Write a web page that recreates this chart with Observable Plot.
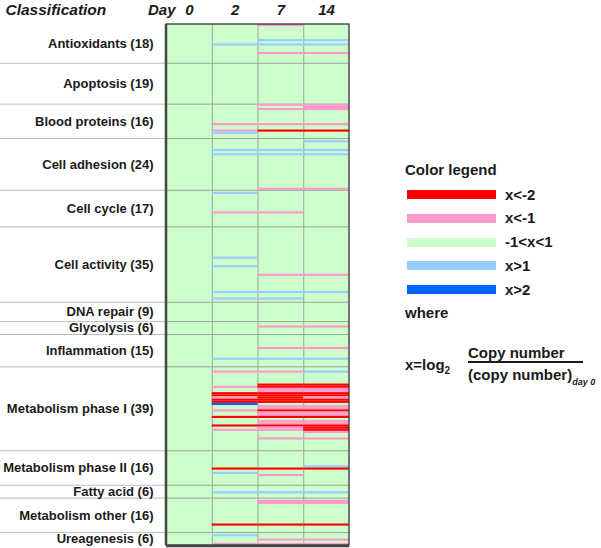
<!DOCTYPE html>
<html>
<head>
<meta charset="utf-8">
<script src="https://cdn.jsdelivr.net/npm/d3@7"></script>
<script src="https://cdn.jsdelivr.net/npm/@observablehq/plot@0.6"></script>
<style>
  body { margin: 0; background: #fff; }
  #wrap { position: relative; width: 601px; height: 548px; font-family: Arial, "Liberation Sans", sans-serif; color: #1a1a1a; overflow: hidden; }
  #chart { position: absolute; left: 0; top: 0; }
  #legend { position: absolute; left: 405px; top: 0; width: 196px; height: 548px; font-weight: bold; font-size: 15px; }
  #legend div { position: absolute; white-space: nowrap; line-height: 18px; }
  .sw { height: 9px; width: 89px; left: 2px; }
  sub { font-size: 10px; line-height: 0; }
  .den sub { font-size: 9px; font-style: italic; vertical-align: -5px; }
</style>
</head>
<body>
<div id="wrap"><div id="chart"></div><div id="legend"></div></div>
<script>
// ---- data ----
const categories = ["Antioxidants", "Apoptosis", "Blood proteins", "Cell adhesion", "Cell cycle",
  "Cell activity", "DNA repair", "Glycolysis", "Inflammation", "Metabolism phase I",
  "Metabolism phase II", "Fatty acid", "Metabolism other", "Ureagenesis"];
const geneCounts = [18, 19, 16, 24, 17, 35, 9, 6, 15, 39, 16, 6, 16, 6];
const days = ["0", "2", "7", "14"];

// [gene row (0 = top), level]  level: -2 x<-2, -1 x<-1, 1 x>1, 2 x>2 ; unlisted rows are -1<x<1
const day0Changes = [];
const day2Changes = [[9,1],[46,-1],[49,-1],[50,1],[58,1],[60,1],[78,1],[87,-1],[108,1],[112,1],
  [124,1],[127,1],[155,1],[161,-1],[168,-1],[171,-2],[172,-2],[173,-1],[174,-2],[175,-2],[176,2],
  [179,-1],[182,-2],[186,-2],[188,-1],[206,-2],[208,1],[217,1],[232,-2],[237,1],[241,-1]];
const day7Changes = [[0,-1],[7,1],[9,1],[13,-1],[37,-1],[39,-1],[46,-1],[49,-2],[58,1],[60,1],
  [76,-1],[87,-1],[116,-1],[124,1],[127,1],[140,-1],[150,-1],[155,1],[161,-1],[167,-2],[168,-2],
  [169,-1],[170,-1],[171,-2],[172,-2],[173,-2],[174,-2],[175,-2],[177,-1],[178,-1],[179,-2],[180,-1],
  [181,-1],[182,-2],[184,-1],[185,-1],[186,-2],[187,-1],[188,-1],[192,-1],[206,-2],[209,-1],[217,1],
  [221,-1],[222,-1],[232,-2],[239,-1],[241,-1]];
const day14Changes = [[7,1],[9,1],[13,-1],[37,-1],[38,-1],[39,-1],[46,-1],[49,-2],[54,1],[58,1],
  [60,1],[76,-1],[116,-1],[124,1],[140,-1],[150,-1],[155,1],[161,1],[167,-2],[168,-2],[169,-1],
  [170,-1],[171,-2],[172,-2],[173,-1],[174,-2],[175,-2],[177,-1],[178,-1],[179,-2],[180,-1],[181,-1],
  [182,-2],[184,-1],[185,-1],[186,-2],[187,-2],[188,-2],[189,-1],[192,-1],[205,1],[206,-2],[217,1],
  [221,-1],[222,-1],[232,-2],[239,-1],[241,-1]];

const levels = [-2, -1, 0, 1, 2];
const legendLabels = ["x<-2", "x<-1", "-1<x<1", "x>1", "x>2"];
const palette = ["#ff0000", "#ff99cc", "#ccffcc", "#99ccff", "#0066ff"];

// ---- derived tables ----
let start = 0;
const groups = categories.map((c, i) => {
  const g = {label: `${c} (${geneCounts[i]})`, start, end: start + geneCounts[i]};
  start += geneCounts[i];
  return g;
});
const total = start;
const boundaries = groups.slice(1).map(g => g.start);
const cells = [];
[day0Changes, day2Changes, day7Changes, day14Changes].forEach((arr, col) =>
  arr.forEach(([row, level]) => cells.push({col, row, level})));

const font = 'Arial, "Liberation Sans", sans-serif';
const chart = Plot.plot({
  width: 360, height: 548,
  marginLeft: 0, marginRight: 11, marginTop: 24, marginBottom: 3,
  x: {domain: [0, days.length], range: [166, 349], axis: null},
  y: {domain: [0, total], reverse: true, axis: null},
  color: {type: "ordinal", domain: levels, range: palette},
  style: {fontFamily: font, background: "white", overflow: "visible"},
  marks: [
    Plot.ruleY(boundaries, {stroke: "#bdbdbd", strokeWidth: 1}),
    Plot.rect([0], {x1: 0, x2: days.length, y1: 0, y2: total, fill: () => 0}),
    Plot.ruleX(d3.range(1, days.length), {y1: 0, y2: total, stroke: "#9aa69a", strokeWidth: 1}),
    Plot.ruleY(boundaries, {x1: 0, x2: days.length, stroke: "#9aa69a", strokeWidth: 1}),
    Plot.rect(cells, {x1: "col", x2: d => d.col + 1, y1: "row", y2: d => d.row + 1, fill: "level"}),
    Plot.rect([0], {x1: 0, x2: days.length, y1: 0, y2: total, fill: "none", stroke: "#333", strokeWidth: 1.3}),
    Plot.ruleX([0], {y1: 0, y2: total, stroke: "#444", strokeWidth: 2.5, dx: -0.5}),
    Plot.ruleY([total], {x1: 0, x2: days.length, stroke: "#444", strokeWidth: 2.5, dy: 0.5}),
    Plot.text(groups, {x: 0, y: d => (d.start + d.end) / 2, text: "label", textAnchor: "end", dx: -13,
      fontSize: 13, fontWeight: "bold", fill: "#1a1a1a"}),
    Plot.text(days, {x: (d, i) => i + 0.5, frameAnchor: "top", lineAnchor: "bottom", dy: -10, text: d => d,
      fontSize: 15, fontWeight: "bold", fontStyle: "italic", fill: "#1a1a1a"}),
    Plot.text(["Day"], {x: 0, frameAnchor: "top", lineAnchor: "bottom", dy: -10, dx: 9, textAnchor: "end",
      fontSize: 15, fontWeight: "bold", fontStyle: "italic", fill: "#1a1a1a"}),
    Plot.text(["Classification"], {frameAnchor: "top-left", lineAnchor: "bottom", textAnchor: "start",
      dx: 5, dy: -10, fontSize: 15.5, fontWeight: "bold", fontStyle: "italic", fill: "#1a1a1a"})
  ]
});
document.getElementById("chart").appendChild(chart);

// ---- legend (HTML beside the plot) ----
const color = chart.scale("color");
const legend = document.getElementById("legend");
function add(text, cls, top, left, isHtml) {
  const d = document.createElement("div");
  if (cls) d.className = cls;
  if (isHtml) d.innerHTML = text; else d.textContent = text;
  d.style.top = top + "px";
  d.style.left = left + "px";
  legend.appendChild(d);
  return d;
}
add("Color legend", null, 161, 0);
levels.forEach((lv, i) => {
  const top = 190 + i * 23.8;
  const sw = add("", "sw", top, 2);
  sw.style.background = color.apply(lv);
  add(legendLabels[i], null, top - 4.5, 100);
});
add("where", null, 304, 0);
add("x=log<sub>2</sub>", null, 356, 0, true);
add("Copy number", null, 344, 63);
const bar = add("", null, 361, 63);
bar.style.width = "115px"; bar.style.height = "1.5px"; bar.style.background = "#1a1a1a";
add("(copy number)<sub>day 0</sub>", "den", 366, 63, true);
</script>
</body>
</html>
